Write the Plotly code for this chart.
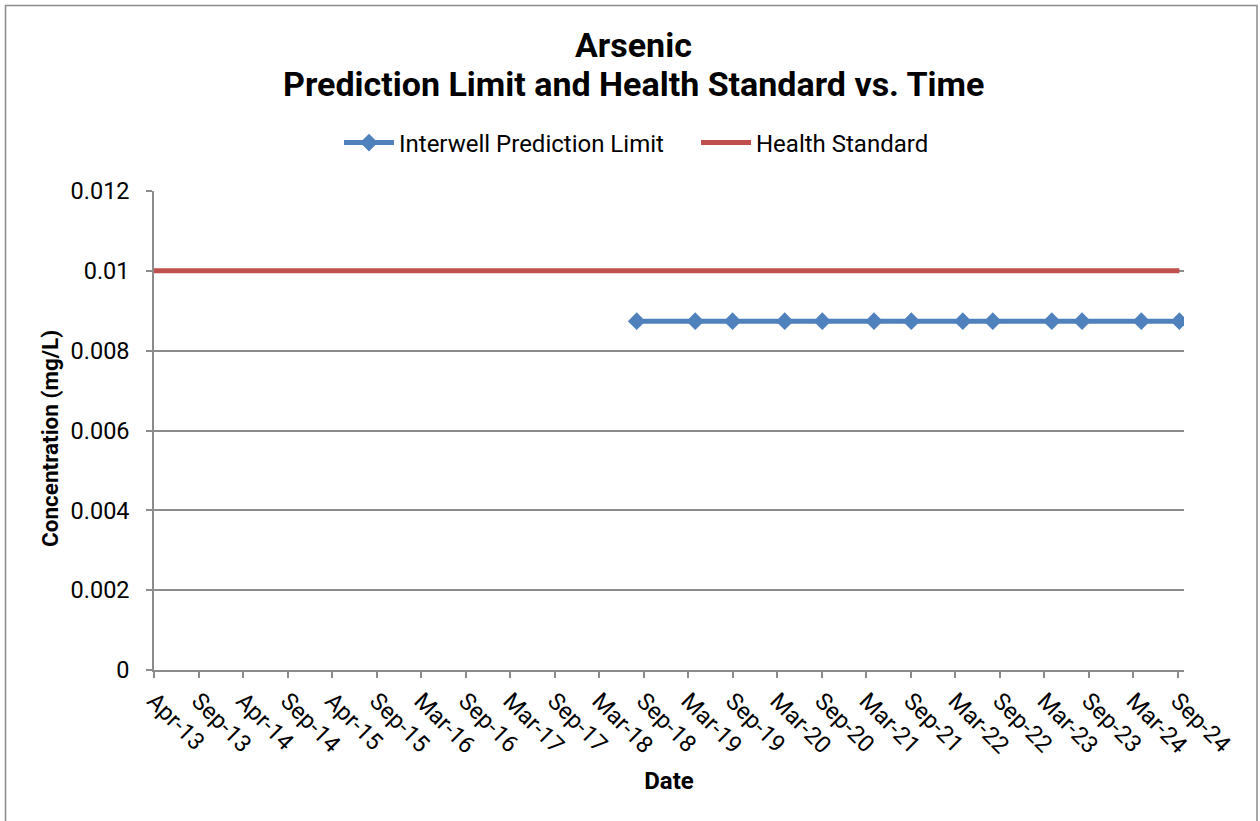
import plotly.graph_objects as go
import pandas as pd

# ---- data ----
pl_dates = ["2018-09-01", "2019-04-29", "2019-09-29", "2020-04-30", "2020-10-01",
            "2021-05-01", "2021-10-01", "2022-04-30", "2022-08-31", "2023-04-30",
            "2023-09-01", "2024-05-01", "2024-10-04"]
pl_values = [0.00874] * 13

hs_dates = ["2013-04-01", "2024-10-04"]
hs_values = [0.01, 0.01]

x_tick_labels = ["Apr-13", "Sep-13", "Apr-14", "Sep-14", "Apr-15", "Sep-15", "Mar-16",
                 "Sep-16", "Mar-17", "Sep-17", "Mar-18", "Sep-18", "Mar-19", "Sep-19",
                 "Mar-20", "Sep-20", "Mar-21", "Sep-21", "Mar-22", "Sep-22", "Mar-23",
                 "Sep-23", "Mar-24", "Sep-24"]
y_tick_vals = [0, 0.002, 0.004, 0.006, 0.008, 0.01, 0.012]
y_tick_labels = ["0", "0.002", "0.004", "0.006", "0.008", "0.01", "0.012"]

title_lines = ["Arsenic", "Prediction Limit and Health Standard vs. Time"]
y_title = "Concentration (mg/L)"
x_title = "Date"

axis_start = pd.Timestamp("2013-04-01")
axis_end = pd.Timestamp("2024-10-23")
tick_step_days = 182.5
x_tick_vals = [axis_start + pd.Timedelta(days=tick_step_days * i) for i in range(len(x_tick_labels))]

# ---- layout geometry ----
W, H = 1260, 821
ML, MR, MT, MB = 154, 76, 191, 151
pw, ph = W - ML - MR, H - MT - MB

BLUE = "#4F81BD"
RED = "#C0504D"
GRID = "#8C8C8C"
FONT = "Roboto"

fig = go.Figure()
fig.add_trace(go.Scatter(
    x=pl_dates, y=pl_values, mode="lines+markers", name="Interwell Prediction Limit",
    line=dict(color=BLUE, width=5),
    marker=dict(symbol="diamond", size=13.5, color=BLUE),
))
fig.add_trace(go.Scatter(
    x=hs_dates, y=hs_values, mode="lines", name="Health Standard",
    line=dict(color=RED, width=5),
))

def px_x(v):
    return (v - ML) / pw

def px_y(v):
    return (H - MB - v) / ph

fig.add_shape(type="rect", xref="paper", yref="paper",
              x0=px_x(5.5), x1=px_x(1257), y0=px_y(825), y1=px_y(5.5),
              line=dict(color="#8C8C8C", width=1.5), fillcolor="rgba(0,0,0,0)", layer="below")

title_y = [45, 84]
for txt, ty in zip(title_lines, title_y):
    fig.add_annotation(text=txt, xref="paper", yref="paper",
                       x=px_x(633), y=px_y(ty), xanchor="center", yanchor="middle",
                       showarrow=False,
                       font=dict(family=FONT, size=34, color="#000000", weight="bold"))

fig.add_annotation(text=y_title, xref="paper", yref="paper",
                   x=px_x(50), y=px_y(439), xanchor="center", yanchor="middle",
                   textangle=-90, showarrow=False,
                   font=dict(family=FONT, size=22.5, color="#000000", weight="bold"))

fig.update_layout(
    width=W, height=H,
    margin=dict(l=ML, r=MR, t=MT, b=MB),
    paper_bgcolor="white", plot_bgcolor="white",
    font=dict(family=FONT, size=23.5, color="#000000"),
    legend=dict(
        orientation="h", xref="container", yref="container",
        x=(345 - 6) / W, xanchor="left", y=1 - 143 / H, yanchor="middle",
        font=dict(family=FONT, size=24, color="#000000"),
        itemwidth=50, traceorder="normal",
        entrywidth=292, entrywidthmode="pixels",
    ),
    showlegend=True,
)

fig.update_xaxes(
    type="date", range=[axis_start, axis_end],
    tickvals=x_tick_vals, ticktext=x_tick_labels, tickangle=45,
    ticks="outside", ticklen=6, tickcolor=GRID, tickwidth=1.5,
    showline=True, linecolor=GRID, linewidth=1.5,
    showgrid=False, zeroline=False,
    tickfont=dict(family=FONT, size=23.5, color="#000000"),
    title=dict(text=x_title, font=dict(family=FONT, size=24, weight="bold"), standoff=14),
)
fig.update_yaxes(
    range=[0, 0.012], tickvals=y_tick_vals, ticktext=y_tick_labels,
    ticks="outside", ticklen=6, tickcolor=GRID, tickwidth=1.5,
    showline=True, linecolor=GRID, linewidth=1.5,
    showgrid=True, gridcolor=GRID, gridwidth=1.5, zeroline=False,
    tickfont=dict(family=FONT, size=23.5, color="#000000"),
    ticklabelstandoff=12,
)

fig.write_html("out.html")
